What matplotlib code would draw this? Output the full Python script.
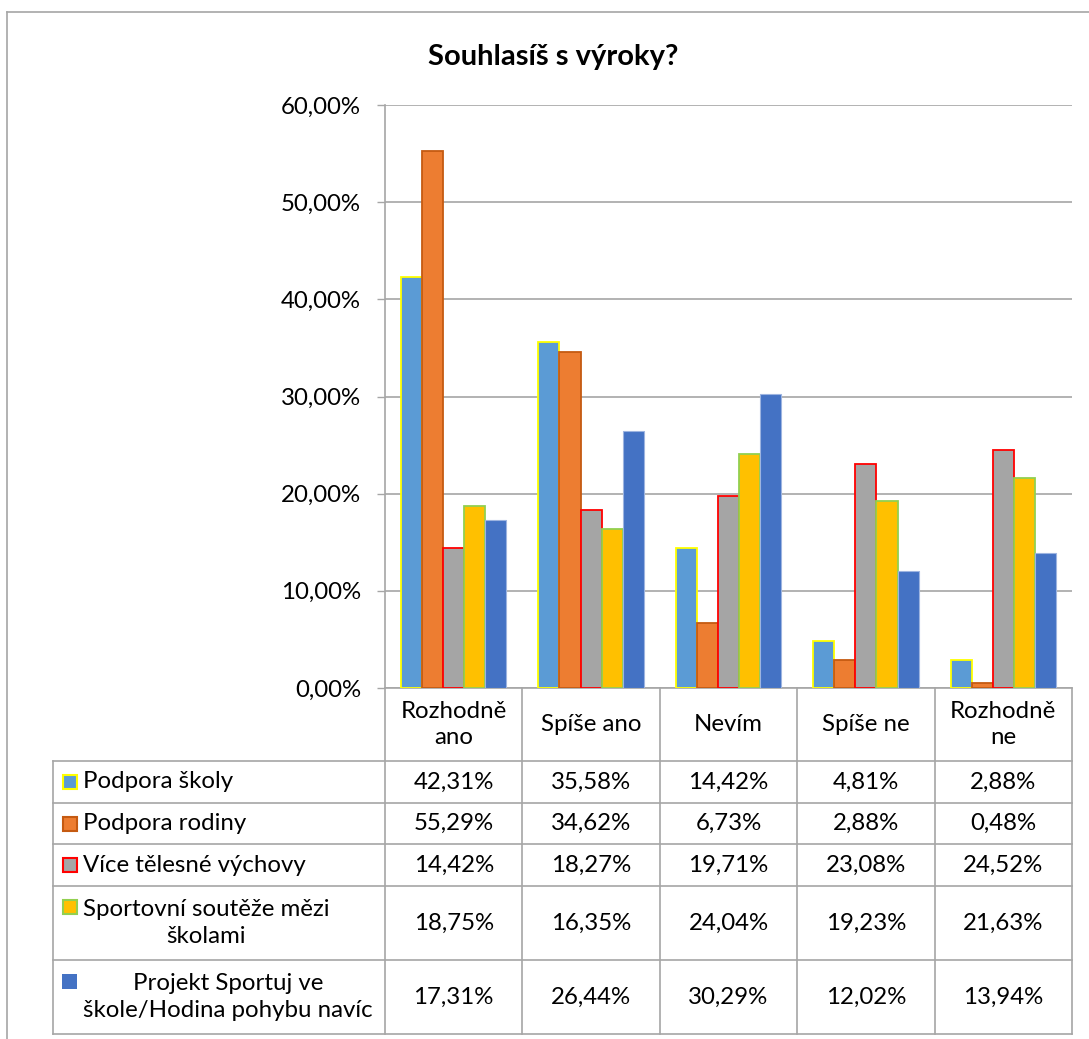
import matplotlib
matplotlib.use("Agg")
import matplotlib.pyplot as plt
from matplotlib.patches import Rectangle
from matplotlib.transforms import blended_transform_factory
import numpy as np

plt.rcParams['font.family'] = ['Lato', 'DejaVu Sans']

title = "Souhlasíš s výroky?"
categories = ["Rozhodně\nano", "Spíše ano", "Nevím", "Spíše ne", "Rozhodně\nne"]
series_names = ["Podpora školy", "Podpora rodiny", "Více tělesné výchovy",
                "Sportovní soutěže mězi\nškolami",
                "Projekt Sportuj ve\nškole/Hodina pohybu navíc"]
podpora_skoly = [42.31, 35.58, 14.42, 4.81, 2.88]
podpora_rodiny = [55.29, 34.62, 6.73, 2.88, 0.48]
vice_tv = [14.42, 18.27, 19.71, 23.08, 24.52]
souteze = [18.75, 16.35, 24.04, 19.23, 21.63]
projekt = [17.31, 26.44, 30.29, 12.02, 13.94]
series = [podpora_skoly, podpora_rodiny, vice_tv, souteze, projekt]
yticks = [0, 10, 20, 30, 40, 50, 60]

fills = ['#5B9BD5', '#ED7D31', '#A5A5A5', '#FFC000', '#4472C4']
edges = ['#FFFF00', '#C55A11', '#FF0000', '#92D050', '#9DB4E0']
lws = [1.3, 1.3, 1.3, 1.3, 0.8]

W, H = 1089, 1039
fig = plt.figure(figsize=(W / 100, H / 100), dpi=100)
grid_c = '#A6A6A6'

# overlay axes in pixel coordinates
ov = fig.add_axes([0, 0, 1, 1], zorder=0)
ov.set_xlim(0, W)
ov.set_ylim(H, 0)
ov.axis('off')

x0, x1 = 385, 1072
y0, y1 = 688, 105
ax = fig.add_axes([x0 / W, 1 - y0 / H, (x1 - x0) / W, (y0 - y1) / H], zorder=1)
ax.patch.set_alpha(0)
n = len(categories)
xs = np.arange(n)
bw = 0.1536
for i, (vals, fc, ec, lw) in enumerate(zip(series, fills, edges, lws)):
    ax.bar(xs + (i - 2) * bw, vals, width=bw, color=fc, edgecolor=ec,
           linewidth=lw, zorder=3)
ax.set_xlim(-0.5, n - 0.5)
ax.set_ylim(0, 60)
ax.set_yticks(yticks)
fs = 17.3
ax.set_yticklabels([f"{v:.2f}".replace('.', ',') + "%" for v in yticks],
                   fontsize=fs, color='#000000')
ax.tick_params(axis='y', length=5.8, width=1, color=grid_c, pad=11.5)
ax.set_xticks([])
ax.grid(axis='y', color=grid_c, linewidth=1.2, zorder=0)
for s in ['top', 'right', 'bottom']:
    ax.spines[s].set_visible(False)
ax.spines['left'].set_color(grid_c)
ax.spines['left'].set_linewidth(1.2)

# title
ov.text(553, 57, title, fontsize=21, fontweight='bold', ha='center',
        va='center', color='#000000')

# outer chart border
ov.plot([7, W], [12, 12], color=grid_c, lw=1.2)
ov.plot([7, 7], [12, H], color=grid_c, lw=1.2)

# table
bt = blended_transform_factory(ax.transData, ov.transData)
row_lines = [688, 761, 803, 844, 886, 960, 1034]
tx_left, tx_right = 53, 1072
ov.plot([x0, tx_right], [row_lines[0]] * 2, color=grid_c, lw=1.2)
for yl in row_lines[1:]:
    ov.plot([tx_left, tx_right], [yl, yl], color=grid_c, lw=1.2)
ov.plot([tx_left, tx_left], [row_lines[1], row_lines[-1]], color=grid_c, lw=1.2)
for k in range(n + 1):
    ov.plot([k - 0.5, k - 0.5], [row_lines[0], row_lines[-1]], color=grid_c,
            lw=1.2, transform=bt)

txtc = '#000000'
hdr_y = (row_lines[0] + row_lines[1]) / 2
for k, c in enumerate(categories):
    ov.text(k, hdr_y, c, transform=bt, ha='center', va='center', fontsize=fs,
            color=txtc, linespacing=1.35)

for r, (name, vals, fc, ec) in enumerate(zip(series_names, series, fills, edges)):
    ya, yb = row_lines[r + 1], row_lines[r + 2]
    yc = (ya + yb) / 2
    for k, v in enumerate(vals):
        ov.text(k, yc, f"{v:.2f}".replace('.', ',') + "%", transform=bt,
                ha='center', va='center', fontsize=fs, color=txtc)
    two = '\n' in name
    key_y = yc - 16 if two else yc
    if r == 4:
        ov.add_patch(Rectangle((62, key_y - 7.5), 15, 15, facecolor=fc,
                               edgecolor='none'))
    else:
        ov.add_patch(Rectangle((62.5, key_y - 7), 14, 14, facecolor=fc,
                               edgecolor=ec, lw=1.5))
    ov.text(83, yc, name, ha='left', va='center', fontsize=fs, color=txtc,
            multialignment='center', linespacing=1.3)

fig.savefig("out.png", dpi=100)
